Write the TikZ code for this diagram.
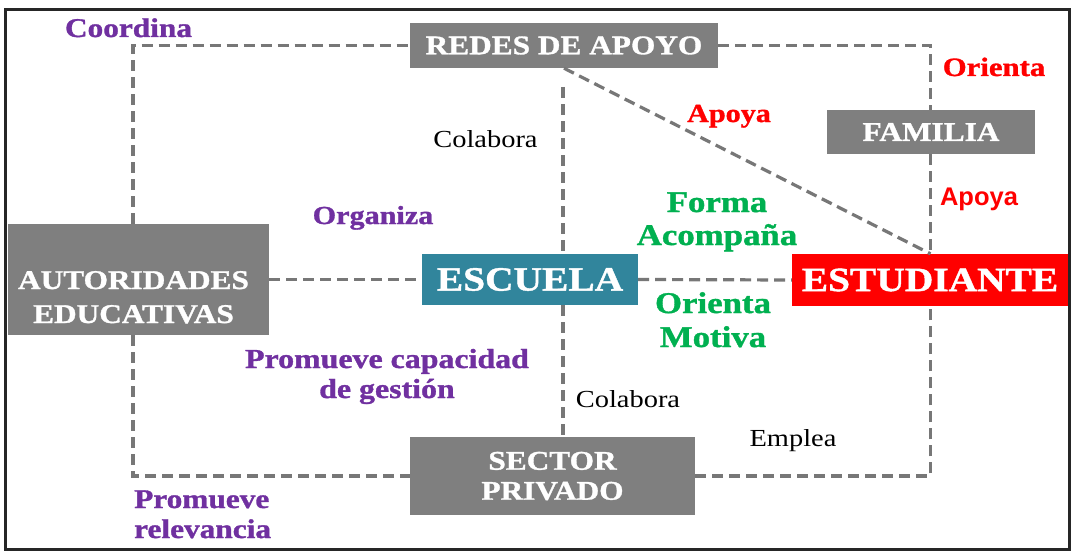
\documentclass[tikz,border=0pt]{standalone}
\usepackage{fontspec}
\setmainfont{Liberation Serif}[FakeStretch=1.16, BoldFeatures={FakeBold=1.2}]
\newfontfamily\sanslab{Liberation Sans}
\usetikzlibrary{calc}
\definecolor{boxgray}{HTML}{7F7F7F}
\definecolor{linegray}{HTML}{777777}
\definecolor{escuelateal}{HTML}{31859C}
\definecolor{estred}{HTML}{FF0000}
\definecolor{lblpurple}{HTML}{7030A0}
\definecolor{lblgreen}{HTML}{00B050}
\definecolor{lblred}{HTML}{FF0000}
\definecolor{framecol}{HTML}{262626}
\tikzset{
  boxnode/.style={fill=boxgray, text=white, inner sep=0pt, align=center,
    font=\bfseries\fontsize{27}{30}\selectfont},
  bignode/.style={text=white, inner sep=0pt, align=center,
    font=\bfseries\fontsize{34}{36}\selectfont},
  link/.style={draw=linegray, line width=3.2pt, dash pattern=on 11pt off 6pt},
  lbl/.style={inner sep=0pt, anchor=base, align=center}
}
\begin{document}
\begin{tikzpicture}[x=1pt,y=-1pt]
\useasboundingbox (0,0) rectangle (1074,551);
\fill[white] (0,0) rectangle (1074,551);

% boxes
\node[boxnode, minimum width=308pt, minimum height=45pt] (redes) at (564,45.5) {REDES DE APOYO};
\node[boxnode, minimum width=208pt, minimum height=44pt] (familia) at (931,132) {FAMILIA};
\node[fill=boxgray, inner sep=0pt, minimum width=261pt, minimum height=111pt] (autoridades) at (138.5,279.5) {};
\node[lbl, text=white, font=\bfseries\fontsize{27}{34}\selectfont] (autoridadesT) at (133.5,323) {AUTORIDADES\\EDUCATIVAS};
\node[bignode, fill=escuelateal, minimum width=216pt, minimum height=51pt] (escuela) at (530,279.5) {ESCUELA};
\node[bignode, fill=estred, minimum width=276pt, minimum height=52pt] (estudiante) at (930,280) {ESTUDIANTE};
\node[boxnode, minimum width=285pt, minimum height=78pt] (sector) at (552.5,476) {SECTOR\\PRIVADO};

% helper coordinates
\coordinate (cL) at (133,0);
\coordinate (cR) at (930.5,0);
\coordinate (cTop) at (563,87);

% connectors
\draw[link] (autoridades.north -| cL) |- (redes.west);
\draw[link] (redes.east) -| (familia.north -| cR);
\draw[link] (familia.south -| cR) -- (estudiante.north -| cR);
\draw[link] (redes.south) -- (estudiante.north -| cR);
\draw[link] (cTop) -- (cTop |- escuela.north);
\draw[link] (escuela.south -| cTop) -- (sector.north -| cTop);
\draw[link] (autoridades.east) -- (escuela.west);
\draw[link] (escuela.east) -- (estudiante.west);
\draw[link] (autoridades.south -| cL) |- (sector.west);
\draw[link] (sector.east) -| (estudiante.south -| cR);

% labels
\node[lbl, text=lblpurple, font=\bfseries\fontsize{27}{30}\selectfont] (coordina) at (128.5,37) {Coordina};
\node[lbl, text=lblred, font=\bfseries\fontsize{26.5}{30}\selectfont] (orientaR) at (994,76) {Orienta};
\node[lbl, text=lblred, font=\bfseries\fontsize{26}{30}\selectfont] (apoyaM) at (729,122) {Apoya};
\node[lbl, text=black, font=\fontsize{24.5}{28}\selectfont] (colaboraT) at (485.5,147) {Colabora};
\node[lbl, text=lblred, font=\sanslab\bfseries\fontsize{25.5}{28}\selectfont] (apoyaR) at (979,205) {Apoya};
\node[lbl, text=lblpurple, font=\bfseries\fontsize{26}{30}\selectfont] (organiza) at (373,224) {Organiza};
\node[lbl, text=lblgreen, font=\bfseries\fontsize{30}{33}\selectfont] (forma) at (717,245) {Forma\\Acompaña};
\node[lbl, text=lblgreen, font=\bfseries\fontsize{30}{34}\selectfont] (orientaG) at (713,347) {Orienta\\Motiva};
\node[lbl, text=lblpurple, font=\bfseries\fontsize{27.5}{30}\selectfont] (promcap) at (387,398) {Promueve capacidad\\de gestión};
\node[lbl, text=black, font=\fontsize{24.5}{28}\selectfont] (colaboraB) at (628,407) {Colabora};
\node[lbl, text=black, font=\fontsize{24.5}{28}\selectfont] (emplea) at (793,446) {Emplea};
\node[lbl, anchor=base west, align=left, text=lblpurple, font=\bfseries\fontsize{27}{30}\selectfont] (promrel) at (134,538) {Promueve\\relevancia};

% frame
\draw[framecol, line width=3pt] (5.5,9.5) rectangle (1069.5,549);
\end{tikzpicture}
\end{document}
